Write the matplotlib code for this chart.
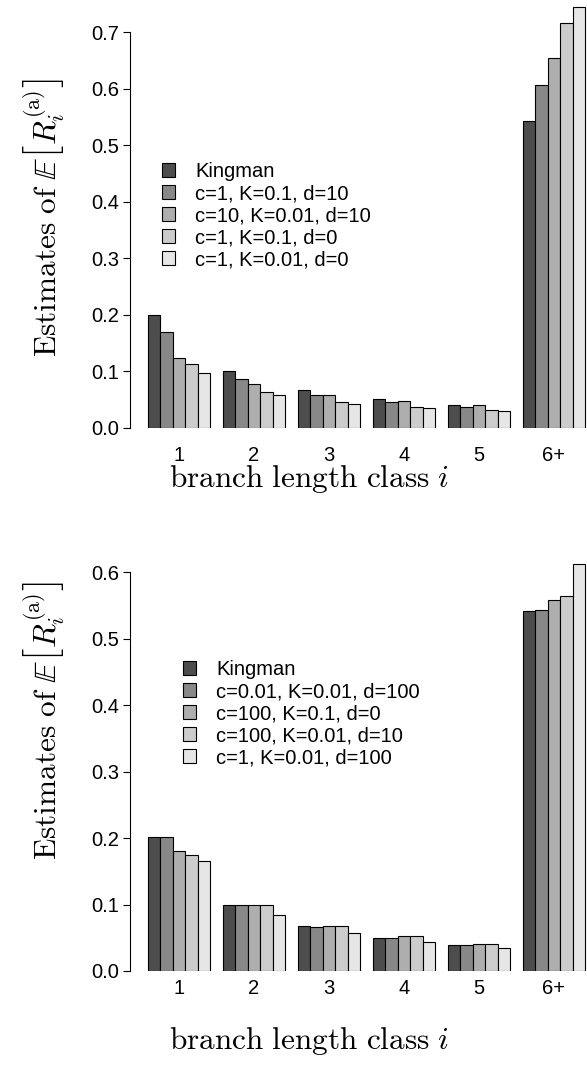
import matplotlib
matplotlib.use("Agg")
import matplotlib.pyplot as plt
from matplotlib.patches import Patch
import numpy as np

plt.rcParams["font.family"] = ["Liberation Sans", "DejaVu Sans"]
plt.rcParams["mathtext.fontset"] = "cm"

classes = ["1", "2", "3", "4", "5", "6+"]
colors = ["#4D4D4D", "#888888", "#AEAEAE", "#CCCCCC", "#E6E6E6"]

# top panel
top_labels = ["Kingman", "c=1, K=0.1, d=10", "c=10, K=0.01, d=10",
              "c=1, K=0.1, d=0", "c=1, K=0.01, d=0"]
top_kingman = [0.200, 0.100, 0.067, 0.050, 0.040, 0.543]
top_c1_k01_d10 = [0.169, 0.087, 0.058, 0.045, 0.036, 0.607]
top_c10_k001_d10 = [0.123, 0.078, 0.058, 0.048, 0.040, 0.655]
top_c1_k01_d0 = [0.112, 0.063, 0.045, 0.037, 0.031, 0.716]
top_c1_k001_d0 = [0.096, 0.057, 0.042, 0.034, 0.029, 0.745]

# bottom panel
bot_labels = ["Kingman", "c=0.01, K=0.01, d=100", "c=100, K=0.1, d=0",
              "c=100, K=0.01, d=10", "c=1, K=0.01, d=100"]
bot_kingman = [0.201, 0.100, 0.067, 0.050, 0.039, 0.542]
bot_c001_k001_d100 = [0.201, 0.100, 0.066, 0.050, 0.039, 0.543]
bot_c100_k01_d0 = [0.180, 0.100, 0.068, 0.052, 0.041, 0.559]
bot_c100_k001_d10 = [0.174, 0.100, 0.068, 0.052, 0.041, 0.565]
bot_c1_k001_d100 = [0.166, 0.085, 0.057, 0.043, 0.035, 0.612]

W, H = 587, 1080
fig = plt.figure(figsize=(W / 100, H / 100), dpi=100)

# R style barplot(beside=TRUE): bar width 1, one unit gap before each group
x0 = -0.416
x1 = 36.14
fs = 14.5


def draw_panel(ax, series, labels, ymax_axis, tick_pad, leg_xy):
    n = len(series)
    groups = np.arange(len(classes))
    for j, vals in enumerate(series):
        left = 1 + groups * (n + 1) + j
        ax.bar(left, vals, width=1.0, align="edge", color=colors[j],
               edgecolor="black", linewidth=0.8)
    ax.set_xlim(x0, x1)
    ax.set_xticks(1 + groups * (n + 1) + n / 2)
    ax.set_xticklabels(classes, fontsize=fs)
    ax.tick_params(axis="x", length=0, pad=tick_pad)
    yt = np.round(np.arange(0, ymax_axis + 0.001, 0.1), 1)
    ax.set_yticks(yt)
    ax.set_yticklabels([f"{v:.1f}" for v in yt], fontsize=fs)
    ax.tick_params(axis="y", direction="out", length=5, width=0.8, pad=3)
    for s in ["top", "right", "bottom"]:
        ax.spines[s].set_visible(False)
    ax.spines["left"].set_bounds(0, ymax_axis)
    ax.spines["left"].set_linewidth(0.8)
    handles = [Patch(facecolor=c, edgecolor="black", linewidth=0.8) for c in colors]
    ax.legend(handles, labels, loc="upper left",
              bbox_to_anchor=(leg_xy[0] / W, 1 - leg_xy[1] / H),
              bbox_transform=fig.transFigure, frameon=False, fontsize=fs,
              handlelength=0.65, handleheight=0.65, handletextpad=1.0,
              labelspacing=0.15, borderpad=0, borderaxespad=0)


ax1 = fig.add_axes([130 / W, 1 - 427.7 / H, (W - 130) / W, 427.7 / H])
ax1.set_ylim(0, 427.7 / 565)
draw_panel(ax1, [top_kingman, top_c1_k01_d10, top_c10_k001_d10,
                 top_c1_k01_d0, top_c1_k001_d0],
           top_labels, 0.7, 13, (162, 162))

ax2 = fig.add_axes([130 / W, 1 - 971 / H, (W - 130) / W, (971 - 540) / H])
ax2.set_ylim(0, 431 / 664.5)
draw_panel(ax2, [bot_kingman, bot_c001_k001_d100, bot_c100_k01_d0,
                 bot_c100_k001_d10, bot_c1_k001_d100],
           bot_labels, 0.6, 6, (183, 660))

ylab = r"$\mathrm{Estimates\ of\ }\mathbb{E}\left[R_i^{(\mathrm{a})}\right]$"
xlab = r"$\mathrm{branch\ length\ class\ }i$"
fig.text(45 / W, 1 - 218 / H, ylab, rotation=90, ha="center", va="center", fontsize=22.5)
fig.text(45 / W, 1 - 721 / H, ylab, rotation=90, ha="center", va="center", fontsize=22.5)
fig.text(309 / W, 1 - 479 / H, xlab, ha="center", va="center", fontsize=22.5)
fig.text(309 / W, 1 - 1041 / H, xlab, ha="center", va="center", fontsize=22.5)

fig.savefig("out.png", dpi=100)
